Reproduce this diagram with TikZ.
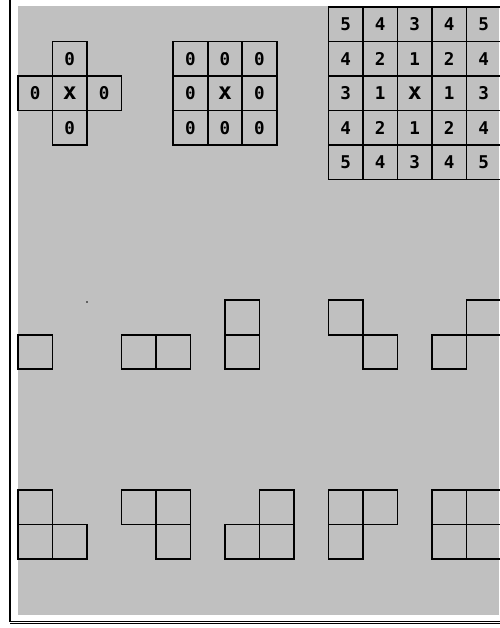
\documentclass[tikz,border=0pt]{standalone}
\usepackage{fontspec}
\newfontfamily\cellfont{DejaVu Sans Mono Bold}
\usepackage{tikz}
\usetikzlibrary{positioning}
\definecolor{panel}{RGB}{192,192,192}
\definecolor{shade}{RGB}{140,140,140}
\newcommand\centremark{{\fontsize{19}{19}\selectfont x}}
\tikzset{
  cell/.style={draw, line width=1.6pt, minimum size=1cm, inner sep=0pt, outer sep=0pt,
    font=\cellfont\fontsize{14.5}{14.5}\selectfont},
}

\begin{document}
\begin{tikzpicture}[x=1cm,y=-1cm]
  % Page and grey panel
  \useasboundingbox (0,0) rectangle (14.464,18.203);
  \fill[white] (0,0) rectangle (14.464,18.203);
  \fill[panel] (0.522,0.174) rectangle (14.464,17.826);
  \coordinate (top) at (0.29,0);
  \coordinate (corner) at (0.29,18.01);
  \coordinate (end) at (14.6,18.01);
  \draw[line width=1.2pt] (top) -- (corner) -- (end);
  \draw[shade, line width=1pt] ([yshift=-1.6pt]corner) -- ([yshift=-1.6pt]end);
  \begin{scope}[shift={(0.522,0.203)}]
    % Four neighbours
    \node[cell] (fx) at (1.5,2.5) {\centremark};
    \node[cell] (fn) at (1.5,1.5) {0};
    \node[cell] (fw) at (0.5,2.5) {0};
    \node[cell] (fe) at (2.5,2.5) {0};
    \node[cell] (fs) at (1.5,3.5) {0};
    % Eight neighbours
    \foreach \i/\j in {0/0,1/0,2/0,0/1,2/1,0/2,1/2,2/2}
      \node[cell] (e-\i-\j) at (5+\i,1.5+\j) {0};
    \node[cell] (ex) at (6,2.5) {\centremark};
    % Distances
    \foreach \r [count=\j from 0] in {{5,4,3,4,5},{4,2,1,2,4},{3,1,\centremark,1,3},{4,2,1,2,4},{5,4,3,4,5}}
      \foreach \v [count=\i from 0] in \r
        \node[cell] (d-\i-\j) at (9.5+\i,0.5+\j) {\v};
    % Stray pixel
    \fill (2.0,8.55) circle (0.7pt);
    % Small pieces
    \node[cell] (one) at (0.5,10) {};
    \node[cell] (twoa) at (3.5,10) {};
    \node[cell] (twob) at (4.5,10) {};
    \node[cell] (vta) at (6.5,9) {};
    \node[cell] (vtb) at (6.5,10) {};
    \node[cell] (sa) at (9.5,9) {};
    \node[cell] (sb) at (10.5,10) {};
    \node[cell] (za) at (12.5,10) {};
    \node[cell] (zb) at (13.5,9) {};
    % Three and four cells
    \node[cell] (la) at (0.5,14.5) {};
    \node[cell] (lb) at (0.5,15.5) {};
    \node[cell] (lc) at (1.5,15.5) {};
    \node[cell] (ja) at (3.5,14.5) {};
    \node[cell] (jb) at (4.5,14.5) {};
    \node[cell] (jc) at (4.5,15.5) {};
    \node[cell] (ka) at (6.5,15.5) {};
    \node[cell] (kb) at (7.5,15.5) {};
    \node[cell] (kc) at (7.5,14.5) {};
    \node[cell] (ga) at (9.5,14.5) {};
    \node[cell] (gb) at (9.5,15.5) {};
    \node[cell] (gc) at (10.5,14.5) {};
    \node[cell] (qa) at (12.5,14.5) {};
    \node[cell] (qb) at (13.5,14.5) {};
    \node[cell] (qc) at (12.5,15.5) {};
    \node[cell] (qd) at (13.5,15.5) {};
  \end{scope}
\end{tikzpicture}
\end{document}
